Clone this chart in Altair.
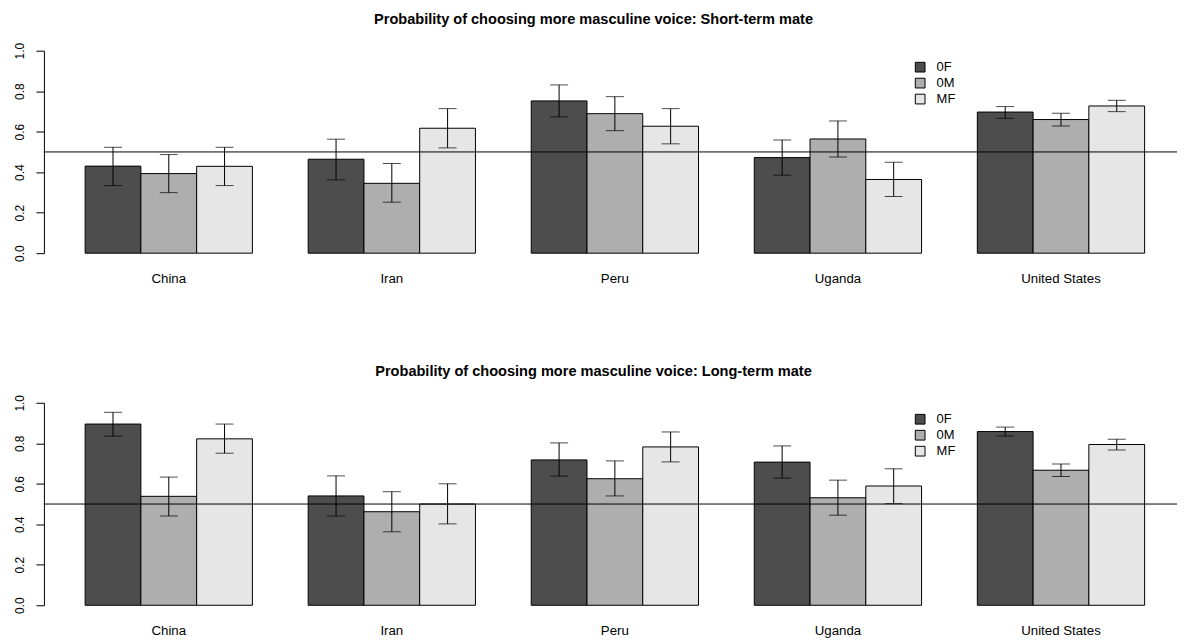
import altair as alt
import pandas as pd

countries = ["China", "Iran", "Peru", "Uganda", "United States"]
conditions = ["0F", "0M", "MF"]
fill_colors = ["#4D4D4D", "#AEAEAE", "#E6E6E6"]
y_ticks = [0.0, 0.2, 0.4, 0.6, 0.8, 1.0]
chance_level = 0.5

title_short = "Probability of choosing more masculine voice: Short-term mate"
title_long = "Probability of choosing more masculine voice: Long-term mate"

# Short-term mate (values per country, in the order of `countries`)
short_0F_mean = [0.430, 0.464, 0.752, 0.472, 0.697]
short_0F_lo = [0.334, 0.362, 0.673, 0.385, 0.666]
short_0F_hi = [0.523, 0.563, 0.831, 0.559, 0.724]
short_0M_mean = [0.393, 0.345, 0.689, 0.564, 0.660]
short_0M_lo = [0.299, 0.252, 0.605, 0.475, 0.628]
short_0M_hi = [0.487, 0.443, 0.773, 0.653, 0.691]
short_MF_mean = [0.429, 0.617, 0.627, 0.364, 0.727]
short_MF_lo = [0.334, 0.520, 0.540, 0.280, 0.699]
short_MF_hi = [0.523, 0.714, 0.714, 0.449, 0.755]

# Long-term mate
long_0F_mean = [0.895, 0.540, 0.718, 0.707, 0.858]
long_0F_lo = [0.835, 0.441, 0.638, 0.628, 0.836]
long_0F_hi = [0.953, 0.639, 0.802, 0.787, 0.880]
long_0M_mean = [0.538, 0.462, 0.625, 0.531, 0.667]
long_0M_lo = [0.441, 0.363, 0.540, 0.445, 0.636]
long_0M_hi = [0.633, 0.561, 0.713, 0.618, 0.698]
long_MF_mean = [0.822, 0.500, 0.782, 0.589, 0.794]
long_MF_lo = [0.751, 0.402, 0.708, 0.502, 0.767]
long_MF_hi = [0.895, 0.600, 0.856, 0.674, 0.820]

FONT = "Liberation Sans"
PLOT_W = 1136
PLOT_H = 203


def make_df(series):
    rows = []
    for cond, (means, los, his) in zip(conditions, series):
        for k, c in enumerate(countries):
            rows.append({"country": c, "cond": cond, "mean": means[k],
                         "lo": los[k], "hi": his[k]})
    return pd.DataFrame(rows)


def panel(title, series):
    df = make_df(series)
    xs = alt.Scale(paddingInner=0.25, paddingOuter=0.165, align=0.56, round=False)
    x = alt.X("country:N", sort=countries, scale=xs,
              axis=alt.Axis(title=None, domain=False, ticks=False, tickSize=0,
                            labelPadding=18, labelAngle=0, labelFontSize=13.3,
                            labelColor="black", labelFont=FONT))
    xo = alt.XOffset("cond:N", sort=conditions,
                     scale=alt.Scale(paddingInner=0, paddingOuter=0, round=False))
    ys = alt.Scale(domain=[0, 1], nice=False, zero=True)
    yaxis = alt.Axis(title=None, values=y_ticks, format=".1f", labelAngle=270,
                     tickSize=8, labelPadding=9, grid=False,
                     domainColor="black", tickColor="black",
                     labelColor="black", labelFontSize=12, labelFont=FONT)
    color = alt.Color("cond:N", sort=conditions,
                      scale=alt.Scale(domain=conditions, range=fill_colors),
                      legend=alt.Legend(title=None, orient="none", legendX=872, legendY=10,
                                        symbolType="square", symbolSize=95,
                                        symbolStrokeColor="black", symbolStrokeWidth=1,
                                        labelFontSize=13, labelOffset=10, rowPadding=1,
                                        padding=0, labelColor="black", labelFont=FONT))
    bars = alt.Chart(df).mark_bar(stroke="black", strokeWidth=1).encode(
        x=x, xOffset=xo, y=alt.Y("mean:Q", scale=ys, axis=yaxis), color=color)
    ref = alt.Chart(pd.DataFrame({"ref": [chance_level]})).mark_rule(
        color="black", strokeWidth=1).encode(y=alt.Y("ref:Q", scale=ys, axis=yaxis))
    err = alt.Chart(df).mark_rule(color="black", strokeWidth=1).encode(
        x=x, xOffset=xo, y=alt.Y("lo:Q", scale=ys, axis=yaxis), y2="hi:Q")
    cap_lo = alt.Chart(df).mark_tick(orient="horizontal", size=18, thickness=1,
                                     color="black").encode(
        x=x, xOffset=xo, y=alt.Y("lo:Q", scale=ys, axis=yaxis))
    cap_hi = alt.Chart(df).mark_tick(orient="horizontal", size=18, thickness=1,
                                     color="black").encode(
        x=x, xOffset=xo, y=alt.Y("hi:Q", scale=ys, axis=yaxis))
    return alt.layer(bars, ref, err, cap_lo, cap_hi).properties(
        width=PLOT_W, height=PLOT_H,
        title=alt.Title(title, font=FONT, fontSize=14.6, fontWeight="bold",
                        color="black", anchor="middle", frame="group", dx=-17,
                        offset=16))


top = panel(title_short, [(short_0F_mean, short_0F_lo, short_0F_hi),
                          (short_0M_mean, short_0M_lo, short_0M_hi),
                          (short_MF_mean, short_MF_lo, short_MF_hi)])
bottom = panel(title_long, [(long_0F_mean, long_0F_lo, long_0F_hi),
                            (long_0M_mean, long_0M_lo, long_0M_hi),
                            (long_MF_mean, long_MF_lo, long_MF_hi)])

chart = alt.vconcat(top, bottom, spacing=150, bounds="flush").resolve_legend(
    color="independent").properties(
    autosize=alt.AutoSizeParams(type="pad"),
    padding={"left": 5, "top": 3, "right": 0, "bottom": 0},
).configure_view(stroke=None)

chart.save("out.html", embed_options={"renderer": "svg", "actions": False})
